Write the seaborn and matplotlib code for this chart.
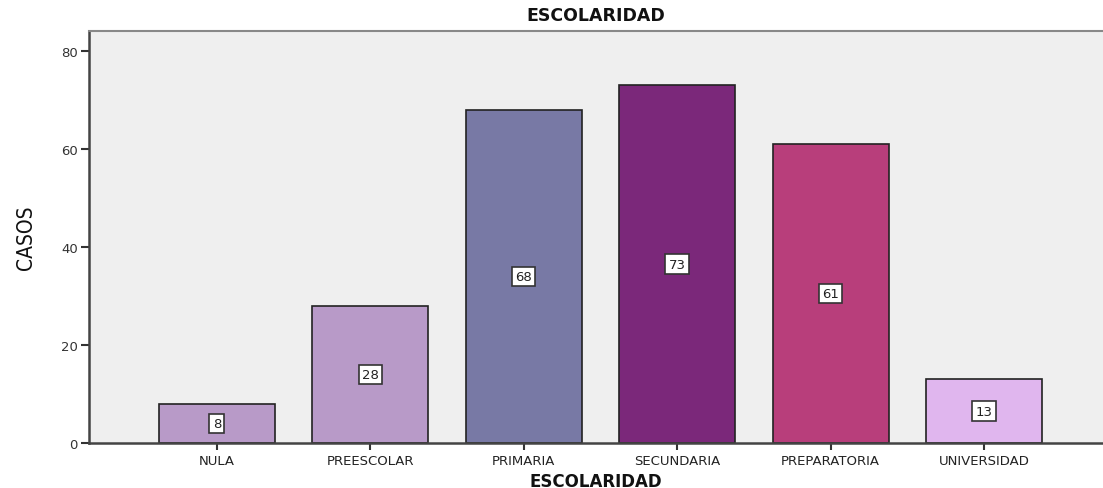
import matplotlib
matplotlib.use("Agg")
import matplotlib.pyplot as plt
import seaborn as sns
import pandas as pd

categories = ["NULA", "PREESCOLAR", "PRIMARIA", "SECUNDARIA", "PREPARATORIA", "UNIVERSIDAD"]
casos = [8, 28, 68, 73, 61, 13]
colors = ["#b89ac8", "#b89ac8", "#7879a5", "#7b287a", "#b83e7b", "#e0b6ee"]

sns.set_theme(style="white")
plt.rcParams['font.family'] = ['DejaVu Sans']

df = pd.DataFrame({"cat": categories, "casos": casos})

fig = plt.figure(figsize=(11.03, 4.89), dpi=100)
ax = fig.add_axes([89/1103, 1-444/489, 1-89/1103, (444-32)/489])
ax.set_facecolor("#efefef")

sns.barplot(data=df, x="cat", y="casos", hue="cat", palette=colors, legend=False,
            width=0.755, edgecolor="#222222", linewidth=1.2, ax=ax, saturation=1)

for i, v in enumerate(casos):
    ax.text(i, v/2, str(v), ha="center", va="center", fontsize=9.5, color="#222222",
            bbox=dict(boxstyle="square,pad=0.25", facecolor="white", edgecolor="#333333", linewidth=1.2))

ax.set_xlim(-0.834, 5.775)
ax.set_ylim(0, 84.1)
ax.set_yticks([0, 20, 40, 60, 80])
ax.tick_params(axis="y", length=6, width=1.5, color="#333333", labelsize=9.5, labelcolor="#333333", left=True, pad=2)
ax.tick_params(axis="x", length=5, width=1.5, color="#333333", labelsize=9.5, labelcolor="#222222", bottom=True, pad=3)
for s in ["left", "bottom"]:
    ax.spines[s].set_color("#444444")
    ax.spines[s].set_linewidth(1.8)
ax.spines["top"].set_color("#888888")
ax.spines["top"].set_linewidth(1.5)
ax.spines["right"].set_visible(False)

ax.set_xlabel("ESCOLARIDAD", fontsize=12, fontweight="bold", color="#111111", labelpad=3.5)
ax.set_ylabel("CASOS", fontsize=15, color="#111111", labelpad=18, fontstretch="condensed")
ax.set_title("ESCOLARIDAD", fontsize=12.5, fontweight="bold", color="#111111", pad=8)

fig.savefig("out.png", dpi=100)
